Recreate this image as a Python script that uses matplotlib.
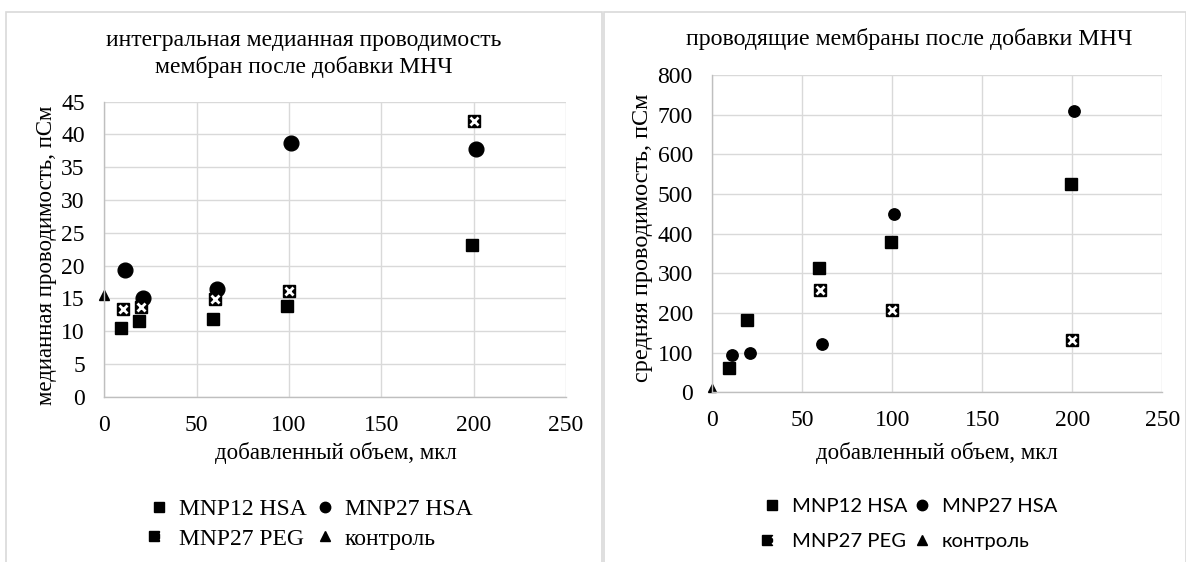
import matplotlib
matplotlib.use("Agg")
import matplotlib.pyplot as plt
from matplotlib.lines import Line2D
from matplotlib.patches import Rectangle
from matplotlib.legend_handler import HandlerTuple

# ---------------- data ----------------
# left panel: integral median conductance (pS)
L_mnp12_x = [9, 19, 59, 99, 199]
L_mnp12_y = [10.5, 11.6, 11.8, 13.8, 23.1]
L_mnp27_x = [11, 21, 61, 101, 201]
L_mnp27_y = [19.3, 15.0, 16.5, 38.7, 37.8]
L_peg_x = [10, 20, 60, 100, 200]
L_peg_y = [13.4, 13.7, 14.9, 16.1, 42.1]
L_ctrl_x = [0]
L_ctrl_y = [15.5]

# right panel: mean conductance of conducting membranes (pS)
R_mnp12_x = [9, 19, 59, 99, 199]
R_mnp12_y = [61, 182, 313, 380, 524]
R_mnp27_x = [11, 21, 61, 101, 201]
R_mnp27_y = [94, 100, 121, 449, 710]
R_peg_x = [60, 100, 200]
R_peg_y = [258, 207, 133]
R_ctrl_x = [0]
R_ctrl_y = [12]

labels = ["MNP12 HSA", "MNP27 HSA", "MNP27 PEG", "контроль"]
L_title = "интегральная медианная проводимость\nмембран после добавки МНЧ"
R_title = "проводящие мембраны после добавки МНЧ"
xlabel = "добавленный объем, мкл"
L_ylabel = "медианная проводимость, пСм"
R_ylabel = "средняя проводимость, пСм"
xticks = [0, 50, 100, 150, 200, 250]
L_yticks = list(range(0, 50, 5))
R_yticks = list(range(0, 900, 100))

W, H = 1186, 562
fig = plt.figure(figsize=(W / 100, H / 100), dpi=100)
fig.patch.set_facecolor("white")

SERIF = ["Liberation Serif", "DejaVu Serif"]
GRID = "#d9d9d9"

# frames of the two chart areas
for (x0, x1) in [(6, 602), (604, 1186)]:
    fig.add_artist(Rectangle((x0 / W, -0.01), (x1 - x0) / W, (H - 12) / H + 0.01,
                             transform=fig.transFigure, fill=False,
                             edgecolor="#d9d9d9", linewidth=1.2))


def style_axes(ax, yticks, ymax):
    ax.set_xlim(0, 250)
    ax.set_ylim(0, ymax)
    ax.set_xticks(xticks)
    ax.set_yticks(yticks)
    ax.grid(True, color=GRID, linewidth=1.0)
    ax.set_axisbelow(True)
    for s in ["top", "right"]:
        ax.spines[s].set_visible(False)
    for s in ["left", "bottom"]:
        ax.spines[s].set_color("#bfbfbf")
        ax.spines[s].set_linewidth(1.0)
    ax.tick_params(axis="y", length=0, labelsize=17, pad=14)
    ax.tick_params(axis="x", length=0, labelsize=17, pad=13)
    for lab in ax.get_xticklabels() + ax.get_yticklabels():
        lab.set_family(SERIF)


def draw(ax, d, sq, ci, pg, tr):
    ax.plot(d[0][0], d[0][1], "s", color="black", ms=sq, ls="none", clip_on=False)
    ax.plot(d[1][0], d[1][1], "o", color="black", ms=ci, ls="none", clip_on=False)
    ax.plot(d[2][0], d[2][1], "s", color="black", ms=pg, ls="none", clip_on=False)
    ax.plot(d[2][0], d[2][1], "x", color="white", ms=pg * 0.62, mew=2.0, ls="none", clip_on=False)
    ax.plot(d[3][0], d[3][1], "^", color="black", ms=tr, ls="none", clip_on=False)


# ---------------- left ----------------
axL = fig.add_axes([104.3 / W, 1 - 396.7 / H, (566 - 104.3) / W, (396.7 - 101.7) / H])
style_axes(axL, L_yticks, 45)
draw(axL, [(L_mnp12_x, L_mnp12_y), (L_mnp27_x, L_mnp27_y), (L_peg_x, L_peg_y), (L_ctrl_x, L_ctrl_y)],
     8.4, 10.6, 9.2, 6.5)
fig.text(304 / W, 1 - 54 / H, L_title, ha="center", va="center", fontsize=17,
         family=SERIF, linespacing=1.27)
fig.text(47 / W, 1 - 255 / H, L_ylabel, ha="center", va="center", rotation=90,
         fontsize=16.5, family=SERIF)
fig.text(336 / W, 1 - 453 / H, xlabel, ha="center", va="center", fontsize=16.5, family=SERIF)

# ---------------- right ----------------
axR = fig.add_axes([712.3 / W, 1 - 392.3 / H, 450 / W, (392.3 - 75) / H])
style_axes(axR, R_yticks, 800)
draw(axR, [(R_mnp12_x, R_mnp12_y), (R_mnp27_x, R_mnp27_y), (R_peg_x, R_peg_y), (R_ctrl_x, R_ctrl_y)],
     8.6, 8.2, 8.8, 6.3)
fig.text(909 / W, 1 - 39 / H, R_title, ha="center", va="center", fontsize=17.2, family=SERIF)
fig.text(642 / W, 1 - 238 / H, R_ylabel, ha="center", va="center", rotation=90,
         fontsize=17.5, family=SERIF)
fig.text(937 / W, 1 - 453 / H, xlabel, ha="center", va="center", fontsize=16.5, family=SERIF)


# ---------------- legends ----------------
def handles(sq, ci, pg, tr):
    h1 = Line2D([], [], marker="s", color="black", ms=sq, ls="none")
    h2 = Line2D([], [], marker="o", color="black", ms=ci, ls="none")
    h3a = Line2D([], [], marker="s", color="black", ms=pg, ls="none")
    h3b = Line2D([], [], marker="x", color="white", ms=pg * 0.72, mew=1.8, ls="none")
    h4 = Line2D([], [], marker="^", color="black", ms=tr, ls="none")
    return [h1, (h3a, h3b), h2, h4]


labs = [labels[0], labels[2], labels[1], labels[3]]
legL = fig.legend(handles(7.5, 7.5, 7.8, 6.5), labs, ncol=2, loc="center",
                  bbox_to_anchor=(311 / W, 1 - 524 / H), frameon=False,
                  prop={"family": SERIF, "size": 17}, handlelength=0.8, handletextpad=0.45,
                  columnspacing=0.35, labelspacing=0.35,
                  handler_map={tuple: HandlerTuple(ndivide=None, pad=0)})
legR = fig.legend(handles(7.5, 7.5, 7.8, 6.5), labs, ncol=2, loc="center",
                  bbox_to_anchor=(910 / W, 1 - 524 / H), frameon=False,
                  prop={"family": ["Lato", "DejaVu Sans"], "size": 14.6}, handlelength=0.9,
                  handletextpad=0.55, columnspacing=0.25, labelspacing=0.85,
                  handler_map={tuple: HandlerTuple(ndivide=None, pad=0)})

fig.savefig("out.png", dpi=100, facecolor="white")
